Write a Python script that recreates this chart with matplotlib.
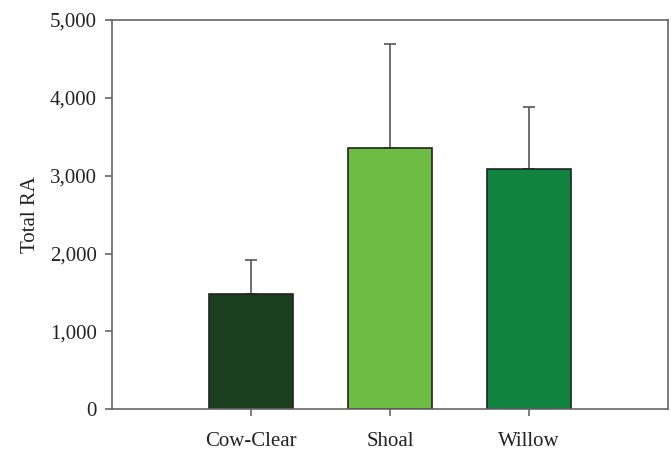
import numpy as np
from matplotlib import pyplot as plt
from matplotlib.ticker import FuncFormatter

sites = ['Cow-Clear', 'Shoal', 'Willow']
total_ra = [1477, 3352, 3082]
ra_err = [437, 1336, 805]
bar_colors = ['#1a3f1f', '#6dbd45', '#118340']

plt.rcParams['font.family'] = ['Liberation Serif', 'DejaVu Serif']

fig = plt.figure(figsize=(6.71, 4.5), dpi=100)
ax = fig.add_axes([0.1669, 0.0904, 0.8286, 0.8652])

x = np.arange(len(sites))
ax.bar(x, total_ra, width=0.6, color=bar_colors, edgecolor='#222222', linewidth=1.2, zorder=2)
ax.errorbar(x, total_ra, yerr=[np.zeros(len(x)), ra_err], fmt='none', ecolor='#555555',
            elinewidth=1.2, capsize=4, capthick=1.2, zorder=1)

ax.set_xlim(-1, 3)
ax.set_ylim(0, 5000)
ax.set_yticks(np.arange(0, 5001, 1000))
ax.yaxis.set_major_formatter(FuncFormatter(lambda v, p: f'{int(v):,}'))
ax.set_xticks(x)
ax.set_xticklabels(sites)
ax.tick_params(axis='both', labelsize=15, colors='#222222', length=5, width=1.2)
ax.tick_params(axis='both', color='#666666')
ax.tick_params(axis='x', pad=11)
ax.tick_params(axis='y', pad=6)
for s in ax.spines.values():
    s.set_color('#666666')
    s.set_linewidth(1.2)
ax.set_ylabel('Total RA', fontsize=15, color='#222222', labelpad=7)

plt.savefig('out.png', dpi=100)
